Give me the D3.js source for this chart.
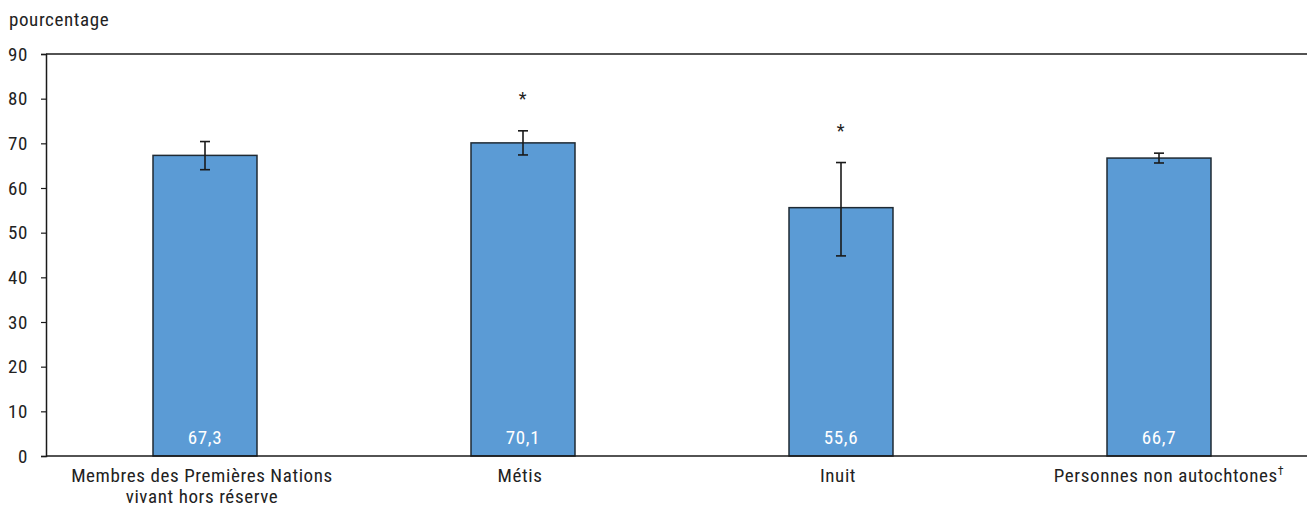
<!DOCTYPE html>
<html lang="fr">
<head>
<meta charset="utf-8">
<script src="https://cdn.jsdelivr.net/npm/d3@7"></script>
<style>
  html, body { margin: 0; padding: 0; background: #fff; }
  svg { display: block; }
  text { font-family: "Roboto Condensed", "Liberation Sans Narrow", "Arial Narrow", Roboto, sans-serif; letter-spacing: 0.6px; }
</style>
</head>
<body>
<svg id="chart" width="1307" height="508"></svg>
<script>
// Catégories (deux lignes possibles par étiquette)
const categories = [
  ["Membres des Premières Nations", "vivant hors réserve"],
  ["Métis"],
  ["Inuit"],
  ["Personnes non autochtones†"]
];
const values = [67.3, 70.1, 55.6, 66.7];
const ciLow  = [64.1, 67.4, 44.8, 65.6];
const ciHigh = [70.4, 72.8, 65.7, 67.8];
const significant = [false, true, true, false];
const yTicks = [0, 10, 20, 30, 40, 50, 60, 70, 80, 90];
const yTitle = "pourcentage";

const svg = d3.select("#chart");
const plot = { left: 46, right: 1318, top: 54, bottom: 456 };
const fontStack = "\"Roboto Condensed\", \"Liberation Sans Narrow\", \"Arial Narrow\", Roboto, sans-serif";
const fs = 19;

const x = d3.scaleBand()
  .domain(d3.range(categories.length))
  .range([plot.left, plot.right])
  .paddingInner(0.673)
  .paddingOuter(0.3365);

const y = d3.scaleLinear().domain([0, 90]).range([plot.bottom, plot.top]);

// Bordure supérieure du cadre
svg.append("line")
  .attr("x1", plot.left).attr("x2", plot.right)
  .attr("y1", y(90)).attr("y2", y(90))
  .attr("stroke", "#1a1a1a").attr("stroke-width", 1.5);

// Barres
svg.append("g").selectAll("rect")
  .data(values)
  .join("rect")
  .attr("x", (d, i) => x(i))
  .attr("y", d => y(d))
  .attr("width", x.bandwidth())
  .attr("height", d => y(0) - y(d))
  .attr("fill", "#5B9BD5")
  .attr("stroke", "#1f2a33")
  .attr("stroke-width", 1.5);

// Valeurs dans les barres
svg.append("g").selectAll("text")
  .data(values)
  .join("text")
  .attr("x", (d, i) => x(i) + x.bandwidth() / 2)
  .attr("y", y(0) - 12)
  .attr("text-anchor", "middle")
  .attr("fill", "#fff")
  .attr("font-size", fs)
  .text(d => d3.format(".1f")(d).replace(".", ","));

// Intervalles de confiance
const eb = svg.append("g").attr("stroke", "#1a1a1a").attr("stroke-width", 1.6);
values.forEach((v, i) => {
  const cx = x(i) + x.bandwidth() / 2;
  eb.append("line").attr("x1", cx).attr("x2", cx).attr("y1", y(ciLow[i])).attr("y2", y(ciHigh[i]));
  eb.append("line").attr("x1", cx - 5).attr("x2", cx + 5).attr("y1", y(ciLow[i])).attr("y2", y(ciLow[i]));
  eb.append("line").attr("x1", cx - 5).attr("x2", cx + 5).attr("y1", y(ciHigh[i])).attr("y2", y(ciHigh[i]));
});

// Astérisques de signification
svg.append("g").selectAll("text")
  .data(values.map((v, i) => i).filter(i => significant[i]))
  .join("text")
  .attr("x", i => x(i) + x.bandwidth() / 2)
  .attr("y", i => y(ciHigh[i]) - 26)
  .attr("text-anchor", "middle")
  .attr("fill", "#222")
  .attr("font-size", 18)
  .text("*");

// Axe vertical
const yAxis = svg.append("g")
  .attr("transform", `translate(${plot.left},0)`)
  .call(d3.axisLeft(y).tickValues(yTicks).tickSize(5).tickPadding(13));
yAxis.select(".domain").attr("stroke", "#1a1a1a").attr("stroke-width", 1.5);
yAxis.selectAll(".tick line").attr("stroke", "#1a1a1a").attr("stroke-width", 1.2);
yAxis.selectAll(".tick text").attr("font-size", fs).attr("fill", "#222")
  .style("font-family", fontStack);

// Axe horizontal
svg.append("line")
  .attr("x1", plot.left).attr("x2", plot.right)
  .attr("y1", y(0)).attr("y2", y(0))
  .attr("stroke", "#1a1a1a").attr("stroke-width", 1.5);

// Étiquettes des catégories
const cat = svg.append("g").selectAll("text")
  .data(categories)
  .join("text")
  .attr("x", (d, i) => x(i) + x.bandwidth() / 2 + (d[0].endsWith("†") ? 10 : -3))
  .attr("y", 482)
  .attr("text-anchor", "middle")
  .attr("fill", "#222")
  .attr("font-size", fs);
cat.each(function(lines) {
  const t = d3.select(this);
  lines.forEach((line, j) => {
    const span = t.append("tspan")
      .attr("x", t.attr("x"))
      .attr("dy", j === 0 ? 0 : 21);
    if (line.endsWith("†")) {
      span.text(line.slice(0, -1));
      t.append("tspan").attr("baseline-shift", "super").attr("font-size", 12).text("†");
    } else {
      span.text(line);
    }
  });
});

// Titre de l'axe
svg.append("text")
  .attr("x", 9).attr("y", 26)
  .attr("fill", "#222")
  .attr("font-size", fs)
  .text(yTitle);
</script>
</body>
</html>
